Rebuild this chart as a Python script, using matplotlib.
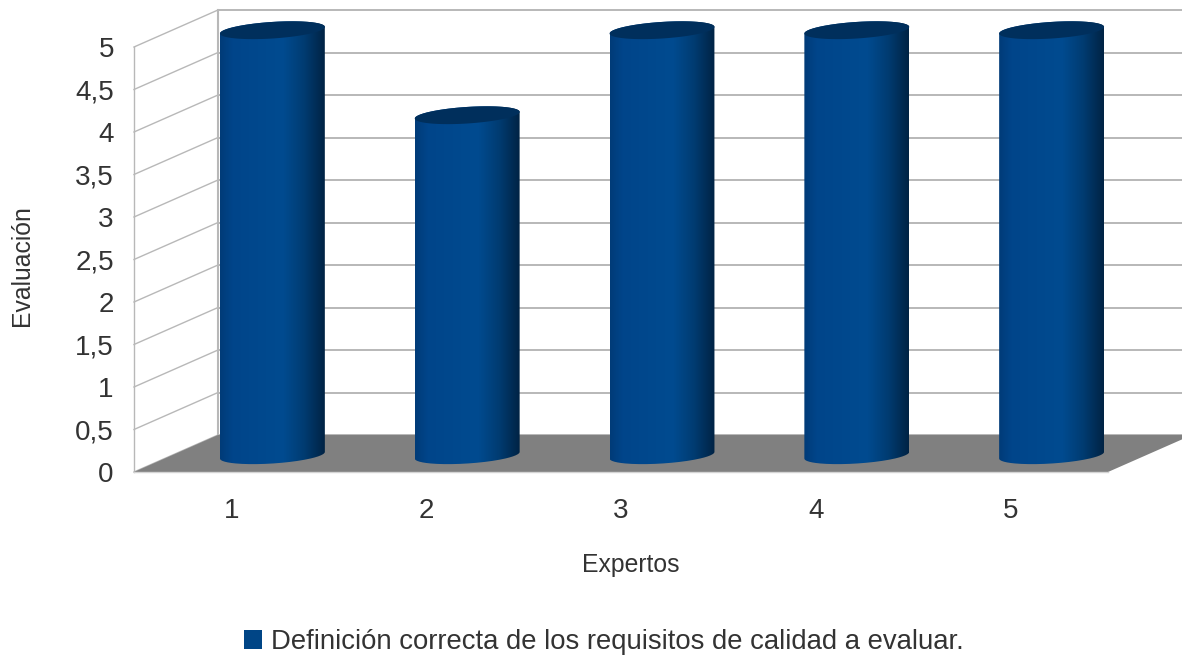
import numpy as np
import matplotlib
matplotlib.use('Agg')
import matplotlib.pyplot as plt
from matplotlib.colors import LinearSegmentedColormap
from matplotlib.patches import Patch, Polygon, PathPatch
from matplotlib.path import Path

plt.rcParams['font.family'] = ['Liberation Sans', 'DejaVu Sans']

categories = ['1', '2', '3', '4', '5']
values = [5, 4, 5, 5, 5]
y_ticks = [0, 0.5, 1, 1.5, 2, 2.5, 3, 3.5, 4, 4.5, 5]
series_name = 'Definición correcta de los requisitos de calidad a evaluar.'

W, H = 1182, 656
LEFT, RIGHT, BOTTOM, TOP = 134, 1108, 472, 47

# Oblique projection: how far the back plane is shifted, in data units
DEPTH_X = 0.431
DEPTH_Y = 0.435
# Cylinder size in data units
RADIUS_X = 0.25
RADIUS_DX = 0.10
RADIUS_DY = 0.105

GRID = '#b8b8b8'
FLOOR = '#808080'
CAP = '#002f5c'
BAR = '#004586'

bar_cmap = LinearSegmentedColormap.from_list('cylinder', [
    (0.0, '#003b78'), (0.12, '#00458a'), (0.6, '#004b90'),
    (0.8, '#003c72'), (1.0, '#002344'),
])

fig = plt.figure(figsize=(W / 100, H / 100), dpi=100)
ax = fig.add_axes([LEFT / W, 1 - BOTTOM / H, (RIGHT - LEFT) / W, (BOTTOM - TOP) / H])
ax.set_xlim(0.5, 5.5)
ax.set_ylim(0, 5)
ax.set_facecolor('none')
for spine in ax.spines.values():
    spine.set_visible(False)

x0, x1 = ax.get_xlim()

# Walls: gridlines run along the side wall and across the back wall
for v in y_ticks:
    ax.plot([x0, x0 + DEPTH_X], [v, v + DEPTH_Y], color=GRID, lw=1.0, clip_on=False, zorder=1)
    ax.plot([x0 + DEPTH_X, x1 + DEPTH_X], [v + DEPTH_Y, v + DEPTH_Y], color=GRID, lw=1.4,
            clip_on=False, zorder=1)
ax.plot([x0, x0], [0, 5], color=GRID, lw=1.0, clip_on=False, zorder=1)
ax.plot([x0 + DEPTH_X] * 2, [DEPTH_Y, 5 + DEPTH_Y], color=GRID, lw=1.5, clip_on=False, zorder=1)

# Floor
ax.add_patch(Polygon([(x0, 0), (x1, 0), (x1 + DEPTH_X, DEPTH_Y), (x0 + DEPTH_X, DEPTH_Y)],
                     closed=True, facecolor=FLOOR, edgecolor='none', clip_on=False, zorder=2))
ax.plot([x0, x1], [0, 0], color='#d4d4d4', lw=1.0, clip_on=False, zorder=2)


def ring(cx, cy, t):
    # Circle lying in the oblique floor plane
    return np.column_stack([cx + RADIUS_X * np.cos(t) + RADIUS_DX * np.sin(t),
                            cy + RADIUS_DY * np.sin(t)])


t0 = np.arctan2(RADIUS_DX, RADIUS_X)
half_width = np.hypot(RADIUS_X, RADIUS_DX)
for i, v in enumerate(values):
    cx = i + 1 + DEPTH_X / 2 - 0.005
    cy = DEPTH_Y / 2 - 0.02
    lower = ring(cx, cy, np.linspace(t0 + np.pi, t0 + 2 * np.pi, 80))
    upper = ring(cx, cy + v, np.linspace(t0, t0 + np.pi, 80))
    outline = np.vstack([lower, upper, lower[:1]])

    im = ax.imshow(np.linspace(0, 1, 256)[None, :], cmap=bar_cmap, aspect='auto', zorder=3,
                   extent=[cx - half_width, cx + half_width, cy - 0.2, cy + v + 0.2],
                   interpolation='bilinear')
    im.set_clip_box(fig.bbox)
    im.set_clip_path(PathPatch(Path(outline), transform=ax.transData))

    ax.add_patch(Polygon(ring(cx, cy + v, np.linspace(0, 2 * np.pi, 160)), closed=True,
                         facecolor=CAP, edgecolor='none', clip_on=False, zorder=4))

ax.set_xlim(0.5, 5.5)
ax.set_ylim(0, 5)

ax.set_xticks(range(1, 6), categories)
ax.set_yticks(y_ticks, [f'{v:g}'.replace('.', ',') for v in y_ticks])
ax.tick_params(axis='x', length=0, pad=18.5, labelsize=20, labelcolor='#333333')
ax.tick_params(axis='y', length=0, pad=14.5, labelsize=20, labelcolor='#333333')

ax.set_xlabel('Expertos', fontsize=17.8, color='#333333')
ax.xaxis.set_label_coords(0.51, -0.19)
ax.set_ylabel('Evaluación', fontsize=17.8, color='#333333')
ax.yaxis.set_label_coords(-0.103, 0.485)

ax.legend(handles=[Patch(facecolor=BAR, label=series_name)], loc='center', frameon=False,
          bbox_to_anchor=(604 / W, 1 - 642 / H), bbox_transform=fig.transFigure,
          fontsize=19.8, labelcolor='#333333', handlelength=0.65, handleheight=0.65,
          handletextpad=0.32)

fig.savefig('out.png', dpi=100)
plt.close(fig)
